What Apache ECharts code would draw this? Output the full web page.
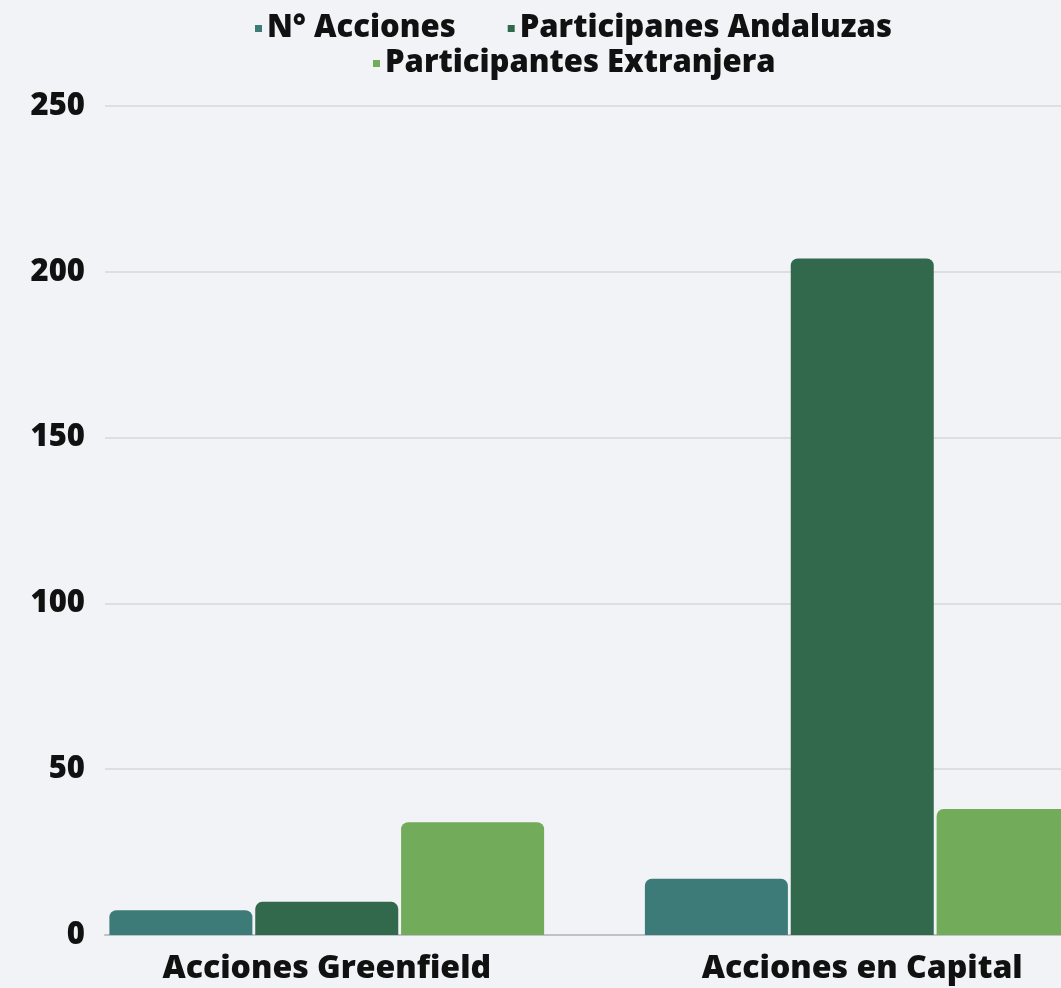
<!DOCTYPE html>
<html><head><meta charset="utf-8">
<script src="https://cdn.jsdelivr.net/npm/echarts@6/dist/echarts.min.js"></script>
<style>html,body{margin:0;padding:0;background:#f1f3f6}#c{width:1061px;height:988px}</style>
</head><body><div id="c"></div>
<script>
const categories = ['Acciones Greenfield', 'Acciones en Capital'];
const seriesNames = ['N° Acciones', 'Participanes Andaluzas', 'Participantes Extranjera'];
const accionesValues = [7.5, 17];
const andaluzasValues = [10, 204];
const extranjeraValues = [34, 38];
const yTicks = [0, 50, 100, 150, 200, 250];

const colors = ['#3d7b78', '#32694d', '#72ab59'];
const font = '"Open Sans", "Noto Sans", sans-serif';
const chart = echarts.init(document.getElementById('c'));
const yMax = yTicks[yTicks.length - 1];
const yInt = yTicks[1] - yTicks[0];
function bar(name, data, color) {
  return {
    name, type: 'bar', data, xAxisIndex: 1, yAxisIndex: 1,
    barWidth: 143, barGap: '2%',
    itemStyle: { color, borderRadius: [7, 7, 0, 0] }
  };
}
const legendText = { fontFamily: font, fontWeight: 800, fontSize: 31, color: '#111' };
chart.setOption({
  backgroundColor: '#f1f3f6',
  animation: false,
  color: colors,
  legend: [
    { data: seriesNames.slice(0, 2), left: 250, top: 8, itemWidth: 7, itemHeight: 7, itemGap: 52, icon: 'rect', textStyle: legendText },
    { data: seriesNames.slice(2), left: 368, top: 43, itemWidth: 7, itemHeight: 7, icon: 'rect', textStyle: legendText }
  ],
  grid: [
    { left: 105, right: 0, top: 106, bottom: 53, outerBoundsMode: 'none' },
    { left: 59, width: 1071, top: 106, bottom: 53, outerBoundsMode: 'none', containLabel: false }
  ],
  xAxis: [
    { type: 'category', gridIndex: 0, data: categories, show: true,
      axisLine: { show: true, lineStyle: { color: '#bfc1c5', width: 2 } },
      axisTick: { show: false }, axisLabel: { show: false } },
    { type: 'category', gridIndex: 1, data: categories,
      axisLine: { show: false }, axisTick: { show: false },
      axisLabel: { fontFamily: font, fontWeight: 800, fontSize: 32, color: '#111', margin: 18 } }
  ],
  yAxis: [
    { type: 'value', gridIndex: 0, min: 0, max: yMax, interval: yInt,
      axisLine: { show: false }, axisTick: { show: false },
      splitLine: { lineStyle: { color: '#dcdee2', width: 2 } },
      axisLabel: { fontFamily: font, fontWeight: 800, fontSize: 31, color: '#111', margin: 20 } },
    { type: 'value', gridIndex: 1, min: 0, max: yMax, interval: yInt, show: false,
      splitLine: { show: false } }
  ],
  series: [
    bar(seriesNames[0], accionesValues, colors[0]),
    bar(seriesNames[1], andaluzasValues, colors[1]),
    bar(seriesNames[2], extranjeraValues, colors[2])
  ]
});
</script></body></html>
